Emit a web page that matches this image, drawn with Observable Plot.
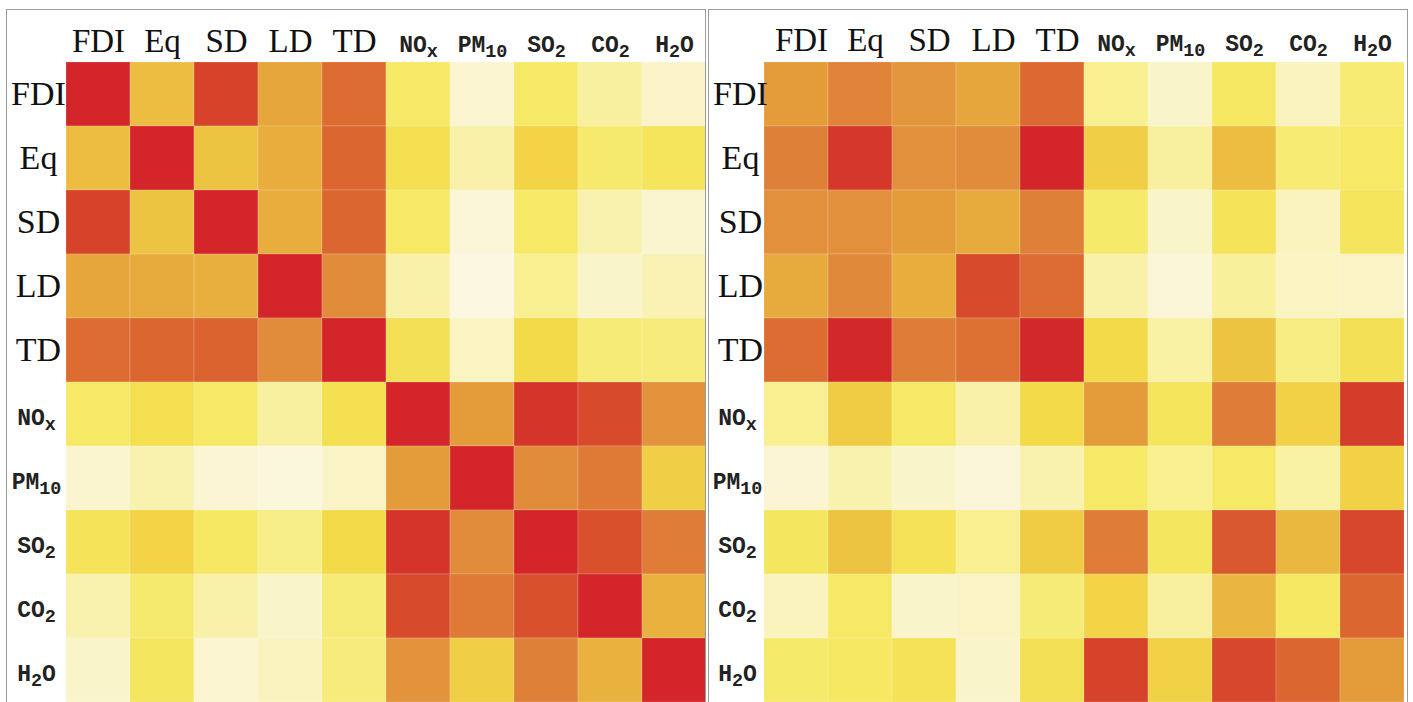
<!DOCTYPE html>
<html>
<head>
<meta charset="utf-8">
<script src="https://cdn.jsdelivr.net/npm/d3@7"></script>
<script src="https://cdn.jsdelivr.net/npm/@observablehq/plot@0.6"></script>
<style>
  html, body { margin: 0; padding: 0; background: #fff; width: 1413px; height: 702px; overflow: hidden; }
  .panel { position: absolute; top: 0; }
  .frame { position: absolute; top: 9px; height: 760px; width: 700px; box-sizing: border-box;
           border: 1px solid #9c9c9c; pointer-events: none; }
</style>
</head>
<body>
<div id="left" class="panel" style="left:6px"></div>
<div id="right" class="panel" style="left:708px"></div>
<div class="frame" style="left:6px"></div>
<div class="frame" style="left:708px"></div>
<script>
// Variable groups (row/column order of both matrices)
const econ = ["FDI", "Eq", "SD", "LD", "TD"];
const poll = ["NOx", "PM10", "SO2", "CO2", "H2O"];
const labels = [...econ, ...poll];

// Left matrix: strength of association (0..1), rows top→bottom, columns left→right
const leftValues = [
  [1.00, 0.50, 0.90, 0.60, 0.78, 0.30, 0.05, 0.30, 0.17, 0.08],
  [0.50, 1.00, 0.48, 0.57, 0.80, 0.37, 0.15, 0.42, 0.28, 0.33],
  [0.90, 0.48, 1.00, 0.57, 0.80, 0.30, 0.03, 0.30, 0.14, 0.06],
  [0.60, 0.58, 0.56, 1.00, 0.68, 0.15, 0.00, 0.20, 0.07, 0.13],
  [0.78, 0.80, 0.81, 0.68, 1.00, 0.36, 0.10, 0.40, 0.26, 0.25],
  [0.30, 0.37, 0.30, 0.17, 0.37, 1.00, 0.63, 0.95, 0.88, 0.66],
  [0.06, 0.14, 0.04, 0.01, 0.09, 0.63, 1.00, 0.68, 0.74, 0.44],
  [0.34, 0.42, 0.31, 0.22, 0.40, 0.95, 0.68, 1.00, 0.86, 0.73],
  [0.14, 0.28, 0.15, 0.07, 0.26, 0.88, 0.74, 0.86, 1.00, 0.55],
  [0.07, 0.32, 0.05, 0.11, 0.25, 0.66, 0.44, 0.72, 0.55, 1.00]
];

// Right matrix
const rightValues = [
  [0.63, 0.71, 0.65, 0.60, 0.79, 0.20, 0.07, 0.31, 0.11, 0.27],
  [0.72, 0.94, 0.67, 0.68, 1.00, 0.44, 0.17, 0.50, 0.27, 0.30],
  [0.67, 0.67, 0.63, 0.58, 0.72, 0.29, 0.07, 0.34, 0.11, 0.33],
  [0.58, 0.69, 0.57, 0.88, 0.78, 0.15, 0.03, 0.18, 0.10, 0.09],
  [0.78, 0.99, 0.73, 0.77, 0.99, 0.40, 0.16, 0.48, 0.23, 0.36],
  [0.20, 0.45, 0.30, 0.15, 0.40, 0.63, 0.33, 0.73, 0.43, 0.92],
  [0.04, 0.14, 0.07, 0.02, 0.14, 0.30, 0.20, 0.30, 0.16, 0.43],
  [0.32, 0.48, 0.35, 0.20, 0.45, 0.73, 0.32, 0.84, 0.52, 0.89],
  [0.11, 0.30, 0.07, 0.09, 0.26, 0.42, 0.17, 0.53, 0.31, 0.80],
  [0.29, 0.31, 0.35, 0.07, 0.36, 0.90, 0.43, 0.89, 0.80, 0.63]
];

// Colour ramp (cream → yellow → orange → red)
const colorStops = [0, 0.1, 0.2, 0.3, 0.4, 0.5, 0.6, 0.7, 0.8, 0.9, 1];
const palette = ["#fbf7e0", "#faf3c2", "#f8ef90", "#f6e966", "#f3da48", "#ecbd40",
                 "#e6a63c", "#e0863a", "#dc6630", "#d6432a", "#d3252a"];

const serif = "'Liberation Serif', 'Times New Roman', serif";
const mono = "'Liberation Mono', 'Courier New', monospace";

function heat(values, o) {
  const data = values.flatMap((row, i) => row.map((v, j) => ({row: labels[i], col: labels[j], v})));
  return Plot.plot({
    width: o.width,
    height: o.height,
    marginTop: o.marginTop,
    marginLeft: o.marginLeft,
    marginRight: 0,
    marginBottom: 0,
    style: {background: "transparent", overflow: "visible", maxWidth: "none"},
    x: {domain: labels, padding: 0},
    y: {domain: labels, padding: 0},
    color: {type: "linear", domain: colorStops, range: palette, interpolate: "rgb"},
    marks: [
      Plot.cell(data, {x: "col", y: "row", fill: "v", stroke: "#ffffff", strokeOpacity: 0.18, strokeWidth: 1}),
      Plot.axisX(econ, {anchor: "top", tickSize: 0, tickPadding: 11, label: null, dx: o.serifDx,
        fontFamily: serif, fontSize: 33, fill: "#111"}),
      Plot.axisX(poll, {anchor: "top", tickSize: 0, tickPadding: 11, label: null,
        fontFamily: mono, fontSize: 23, fontWeight: "bold", fill: "#222"}),
      Plot.axisY(econ, {anchor: "left", tickSize: 0, tickPadding: o.serifPad, textAnchor: "middle", label: null,
        fontFamily: serif, fontSize: 34, fill: "#111"}),
      Plot.axisY(poll, {anchor: "left", tickSize: 0, tickPadding: o.monoPad, textAnchor: "middle", label: null, dy: 3,
        fontFamily: mono, fontSize: 23, fontWeight: "bold", fill: "#222"})
    ]
  });
}

// chemical subscripts
const subs = {
  NOx: [["NO", 0], ["x", 1]],
  PM10: [["PM", 0], ["10", 1]],
  SO2: [["SO", 0], ["2", 1]],
  CO2: [["CO", 0], ["2", 1]],
  H2O: [["H", 0], ["2", 1], ["O", 0]]
};
function subscript(svg) {
  const ns = "http://www.w3.org/2000/svg";
  svg.querySelectorAll("text").forEach(t => {
    const key = t.textContent;
    if (!subs[key]) return;
    while (t.firstChild) t.removeChild(t.firstChild);
    let off = 0;
    subs[key].forEach(([s, isSub]) => {
      const ts = document.createElementNS(ns, "tspan");
      ts.textContent = s;
      const target = isSub ? 5 : 0;
      if (target !== off) ts.setAttribute("dy", target - off);
      if (isSub) ts.setAttribute("font-size", "80%");
      off = target;
      t.appendChild(ts);
    });
  });
}

const leftSvg = heat(leftValues, {width: 700, height: 702, marginTop: 62, marginLeft: 60, serifPad: 28, monoPad: 30, serifDx: 0});
subscript(leftSvg);
document.getElementById("left").appendChild(leftSvg);

const rightSvg = heat(rightValues, {width: 697, height: 703, marginTop: 61, marginLeft: 55, serifPad: 23, monoPad: 26, serifDx: 5});
subscript(rightSvg);
document.getElementById("right").appendChild(rightSvg);
</script>
</body>
</html>
